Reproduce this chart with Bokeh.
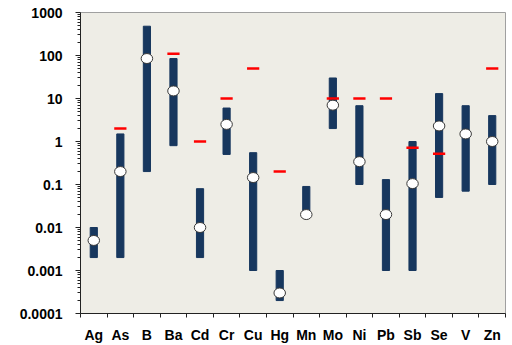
from bokeh.plotting import figure
from bokeh.models import Range1d, FixedTicker, CustomJSTickFormatter
from bokeh.embed import file_html
from bokeh.resources import INLINE

# ---- data ----
cats = ["Ag", "As", "B", "Ba", "Cd", "Cr", "Cu", "Hg", "Mn", "Mo", "Ni", "Pb", "Sb", "Se", "V", "Zn"]
low = [0.002, 0.002, 0.2, 0.8, 0.002, 0.5, 0.001, 0.0002, 0.02, 2, 0.1, 0.001, 0.001, 0.05, 0.07, 0.1]
high = [0.01, 1.5, 480, 85, 0.08, 6, 0.55, 0.001, 0.09, 30, 6.8, 0.13, 1.0, 13, 6.8, 4]
median = [0.005, 0.2, 85, 15, 0.01, 2.5, 0.145, 0.0003, 0.02, 7, 0.34, 0.02, 0.105, 2.3, 1.5, 1.0]
limit = [None, 2, None, 110, 1, 10, 50, 0.2, None, 10, 10, 10, 0.72, 0.52, None, 50]
y_ticks = [0.0001, 0.001, 0.01, 0.1, 1, 10, 100, 1000]
y_tick_labels = ["0.0001", "0.001", "0.01", "0.1", "1", "10", "100", "1000"]

xs = [i + 0.5 for i in range(len(cats))]
lim_x = [xs[i] for i, v in enumerate(limit) if v is not None]
lim_y = [v for v in limit if v is not None]

p = figure(width=512, height=345, y_axis_type="log",
           x_range=Range1d(0, len(cats)), y_range=Range1d(y_ticks[0], y_ticks[-1]),
           output_backend="svg", toolbar_location=None,
           min_border_left=80, min_border_right=7, min_border_top=12, min_border_bottom=29)
p.background_fill_color = "#EEEDE6"
p.border_fill_color = "white"
p.outline_line_color = "#A0A0A0"
p.xgrid.visible = False
p.ygrid.visible = False

p.vbar(x=xs, width=0.27, bottom=low, top=high, fill_color="#17375E", line_color="#17375E")
p.segment(x0=[x - 0.23 for x in lim_x], x1=[x + 0.23 for x in lim_x], y0=lim_y, y1=lim_y,
          line_color="#FF0000", line_width=2.5)
p.ellipse(x=xs, y=median, width=11.5, height=10, width_units="screen", height_units="screen",
          fill_color="white", line_color="#3A3A3A", line_width=1)

minor_y = [m * 10.0 ** e for e in range(-4, 3) for m in range(2, 10)]
p.yaxis.ticker = FixedTicker(ticks=y_ticks, minor_ticks=minor_y)
p.yaxis.formatter = CustomJSTickFormatter(args=dict(labels=y_tick_labels),
                                          code="return labels[Math.round(Math.log10(tick)) + 4];")
p.xaxis.ticker = FixedTicker(ticks=xs, minor_ticks=list(range(len(cats) + 1)))
p.xaxis.formatter = CustomJSTickFormatter(args=dict(cats=cats),
                                          code="return cats[Math.floor(tick)];")

for ax in (p.xaxis, p.yaxis):
    ax.axis_line_color = "#222222"
    ax.major_tick_line_color = "#222222"
    ax.minor_tick_line_color = "#222222"
    ax.major_label_text_font = "Liberation Sans"
    ax.major_label_text_font_style = "bold"
    ax.major_label_text_font_size = "14px"
    ax.major_label_text_color = "black"
    ax.major_tick_in = 0
    ax.minor_tick_in = 0

p.xaxis.major_tick_line_color = None
p.xaxis.major_tick_out = 0
p.xaxis.minor_tick_out = 4
p.xaxis.major_label_standoff = 9
p.yaxis.major_tick_out = 5
p.yaxis.minor_tick_out = 3
p.yaxis.major_label_standoff = 13

open("out.html", "w").write(file_html(p, INLINE))
